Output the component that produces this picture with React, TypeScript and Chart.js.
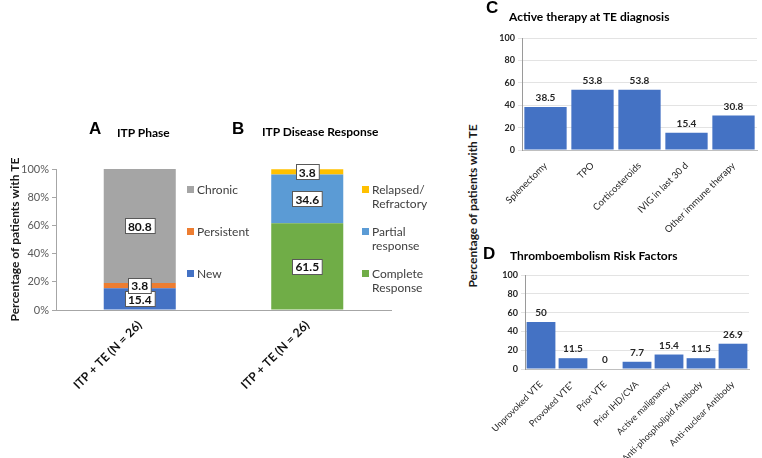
import React, { useEffect, useRef } from "react";
import { Chart, registerables } from "chart.js";

Chart.register(...registerables);
Chart.defaults.font.family = "Lato, 'Open Sans', sans-serif";

// ---------- Data ----------
const stackCategories = ["ITP + TE (N = 26)", "ITP + TE (N = 26)"];

const phaseLabels = [["New"], ["Persistent"], ["Chronic"]];
const phaseValues = [15.4, 3.8, 80.8];
const phaseColors = ["#4472C4", "#ED7D31", "#A5A5A5"];

const responseLabels = [["Complete", "Response"], ["Partial", "response"], ["Relapsed/", "Refractory"]];
const responseValues = [61.5, 34.6, 3.8];
const responseColors = ["#70AD47", "#5B9BD5", "#FFC000"];

const therapyCategories = ["Splenectomy", "TPO", "Corticosteroids", "IVIG in last 30 d", "Other immune therapy"];
const therapyValues = [38.5, 53.8, 53.8, 15.4, 30.8];

const riskCategories = [
  "Unprovoked VTE",
  "Provoked VTE*",
  "Prior VTE",
  "Prior IHD/CVA",
  "Active malignancy",
  "Anti-phospholipid Antibody",
  "Anti-nuclear Antibody",
];
const riskValues = [50, 11.5, 0, 7.7, 15.4, 11.5, 26.9];

const yAxisTitle = "Percentage of patients with TE";
const barBlue = "#4472C4";

// ---------- Plugins ----------
const boxLabelPlugin = {
  id: "boxLabels",
  afterDatasetsDraw(chart: any) {
    const ctx = chart.ctx;
    ctx.save();
    ctx.font = "bold 12px Lato";
    ctx.textAlign = "center";
    ctx.textBaseline = "middle";
    chart.data.datasets.forEach((ds: any, di: number) => {
      const meta = chart.getDatasetMeta(di);
      meta.data.forEach((el: any, i: number) => {
        const v = ds.data[i];
        if (v == null) return;
        const { x, y, base } = el.getProps(["x", "y", "base"], true);
        const cy = (y + base) / 2;
        const t = String(v);
        const w = ctx.measureText(t).width + 6;
        const h = 15;
        ctx.fillStyle = "#ffffff";
        ctx.fillRect(Math.round(x - w / 2) + 0.5, Math.round(cy - h / 2) + 0.5, w, h);
        ctx.strokeStyle = "#595959";
        ctx.lineWidth = 1;
        ctx.strokeRect(Math.round(x - w / 2) + 0.5, Math.round(cy - h / 2) + 0.5, w, h);
        ctx.fillStyle = "#111";
        ctx.fillText(t, x, cy + 1);
      });
    });
    ctx.restore();
  },
};

const stackLegendPlugin = {
  id: "stackLegend",
  afterDraw(chart: any) {
    const ctx = chart.ctx;
    const area = chart.chartArea;
    const groupX = [187, 362];
    ctx.save();
    ctx.font = "12px Lato";
    ctx.textBaseline = "middle";
    ctx.textAlign = "left";
    [0, 1].forEach((g) => {
      const items = chart.data.datasets.filter((d: any) => d.group === g).slice().reverse();
      items.forEach((d: any, k: number) => {
        const yy = area.top + 21 + k * 42;
        ctx.fillStyle = d.backgroundColor;
        ctx.fillRect(groupX[g], yy - 4, 7, 7);
        ctx.fillStyle = "#404040";
        d.legendLines.forEach((line: string, li: number) => {
          ctx.fillText(line, groupX[g] + 10, yy + li * 14);
        });
      });
    });
    ctx.restore();
  },
};

const topLabelPlugin = {
  id: "topLabels",
  afterDatasetsDraw(chart: any) {
    const ctx = chart.ctx;
    ctx.save();
    ctx.font = "bold 10px Lato";
    ctx.fillStyle = "#262626";
    ctx.textAlign = "center";
    ctx.textBaseline = "bottom";
    chart.data.datasets.forEach((ds: any, di: number) => {
      const meta = chart.getDatasetMeta(di);
      meta.data.forEach((el: any, i: number) => {
        const { x, y } = el.getProps(["x", "y"], true);
        ctx.fillText(String(ds.data[i]), x, y - 4);
      });
    });
    ctx.restore();
  },
};

// ---------- Configs ----------
function makeStackConfig(): any {
  const phaseSets = phaseValues.map((v, i) => ({
    label: phaseLabels[i].join(" "),
    legendLines: phaseLabels[i],
    group: 0,
    data: [v, null],
    backgroundColor: phaseColors[i],
  }));
  const responseSets = responseValues.map((v, i) => ({
    label: responseLabels[i].join(" "),
    legendLines: responseLabels[i],
    group: 1,
    data: [null, v],
    backgroundColor: responseColors[i],
  }));
  return {
    type: "bar",
    data: { labels: stackCategories, datasets: [...phaseSets, ...responseSets] },
    options: {
      responsive: false,
      animation: false,
      layout: { padding: { top: 69, right: 59, left: 0, bottom: 0 } },
      plugins: { legend: { display: false }, tooltip: { enabled: false } },
      datasets: { bar: { barPercentage: 0.43, categoryPercentage: 1 } },
      scales: {
        x: {
          stacked: true,
          grid: { display: false },
          border: { display: true, color: "#a6a6a6" },
          ticks: {
            maxRotation: 45,
            minRotation: 45,
            autoSkip: false,
            padding: 0,
            color: "#111",
            font: { size: 12, weight: "bold" },
          },
          afterFit: (s: any) => {
            s.height = 100;
          },
        },
        y: {
          stacked: true,
          min: 0,
          max: 100,
          ticks: {
            stepSize: 20,
            padding: 3,
            color: "#595959",
            font: { size: 11 },
            callback: (v: any) => v + "%",
          },
          grid: { drawOnChartArea: false, tickLength: 4, color: "#a6a6a6" },
          border: { color: "#a6a6a6" },
          title: {
            display: true,
            text: yAxisTitle,
            color: "#1a1a1a",
            font: { size: 12, weight: "bold" },
            padding: { top: 8, bottom: 0 },
          },
          afterFit: (s: any) => {
            s.width = 56;
          },
        },
      },
    },
    plugins: [boxLabelPlugin, stackLegendPlugin],
  };
}

function makeSimpleConfig(
  labels: string[],
  values: number[],
  pad: { top: number; right: number },
  yWidth: number,
  xHeight: number,
  labelSize: number
): any {
  return {
    type: "bar",
    data: {
      labels,
      datasets: [{ data: values, backgroundColor: barBlue, barPercentage: 0.9, categoryPercentage: 1 }],
    },
    options: {
      responsive: false,
      animation: false,
      layout: { padding: { top: pad.top, right: pad.right, left: 0, bottom: 0 } },
      plugins: { legend: { display: false }, tooltip: { enabled: false } },
      scales: {
        x: {
          grid: { display: false },
          border: { display: true, color: "#bfbfbf" },
          ticks: {
            maxRotation: 45,
            minRotation: 45,
            autoSkip: false,
            padding: 2,
            color: "#262626",
            font: { size: labelSize },
          },
          afterFit: (s: any) => {
            s.height = xHeight;
          },
        },
        y: {
          min: 0,
          max: 100,
          ticks: { stepSize: 20, padding: 3, color: "#262626", font: { size: 9, weight: "bold" } },
          grid: { color: "#e3e3e3", tickLength: 4 },
          border: { color: "#9a9a9a" },
          afterFit: (s: any) => {
            s.width = yWidth;
          },
        },
      },
    },
    plugins: [topLabelPlugin],
  };
}

// ---------- Components ----------
function ChartBox(props: { left: number; top: number; width: number; height: number; make: () => any }) {
  const ref = useRef<HTMLCanvasElement>(null);
  useEffect(() => {
    const chart = new Chart(ref.current as HTMLCanvasElement, props.make());
    return () => chart.destroy();
  }, []);
  return (
    <div style={{ position: "absolute", left: props.left, top: props.top, width: props.width, height: props.height }}>
      <canvas ref={ref} width={props.width} height={props.height} style={{ display: "block" }} />
    </div>
  );
}

function Text(props: { x: number; y: number; size: number; letter?: boolean; children: any }) {
  return (
    <div
      style={{
        position: "absolute",
        left: props.x,
        top: props.y,
        transform: "translateY(-50%)",
        whiteSpace: "nowrap",
        fontFamily: props.letter ? "'Liberation Sans', Arial, sans-serif" : "Lato, sans-serif",
        fontWeight: "bold",
        fontSize: props.size,
        lineHeight: 1.2,
        color: "#000",
      }}
    >
      {props.children}
    </div>
  );
}

export default function App() {
  return (
    <div
      style={{
        position: "absolute",
        left: 0,
        top: 0,
        width: 762,
        height: 458,
        background: "#fff",
        overflow: "hidden",
      }}
    >
      <ChartBox left={0} top={100} width={450} height={310} make={makeStackConfig} />
      <ChartBox
        left={480}
        top={0}
        width={282}
        height={250}
        make={() => makeSimpleConfig(therapyCategories, therapyValues, { top: 38, right: 5 }, 42, 100, 9.5)}
      />
      <ChartBox
        left={480}
        top={240}
        width={282}
        height={218}
        make={() => makeSimpleConfig(riskCategories, riskValues, { top: 35, right: 13 }, 45, 89, 9)}
      />

      <Text x={89} y={129} size={17} letter>A</Text>
      <Text x={117} y={133} size={12}>ITP Phase</Text>
      <Text x={232} y={129} size={17} letter>B</Text>
      <Text x={262} y={132} size={12}>ITP Disease Response</Text>
      <Text x={486} y={8} size={17} letter>C</Text>
      <Text x={509} y={17} size={12}>Active therapy at TE diagnosis</Text>
      <Text x={483} y={254} size={17} letter>D</Text>
      <Text x={510} y={256} size={12}>Thromboembolism Risk Factors</Text>

      <div
        style={{
          position: "absolute",
          left: 472,
          top: 206,
          transform: "translate(-50%, -50%) rotate(-90deg)",
          whiteSpace: "nowrap",
          fontFamily: "Lato, sans-serif",
          fontWeight: "bold",
          fontSize: 12,
          color: "#1a1a1a",
        }}
      >
        {yAxisTitle}
      </div>
    </div>
  );
}
